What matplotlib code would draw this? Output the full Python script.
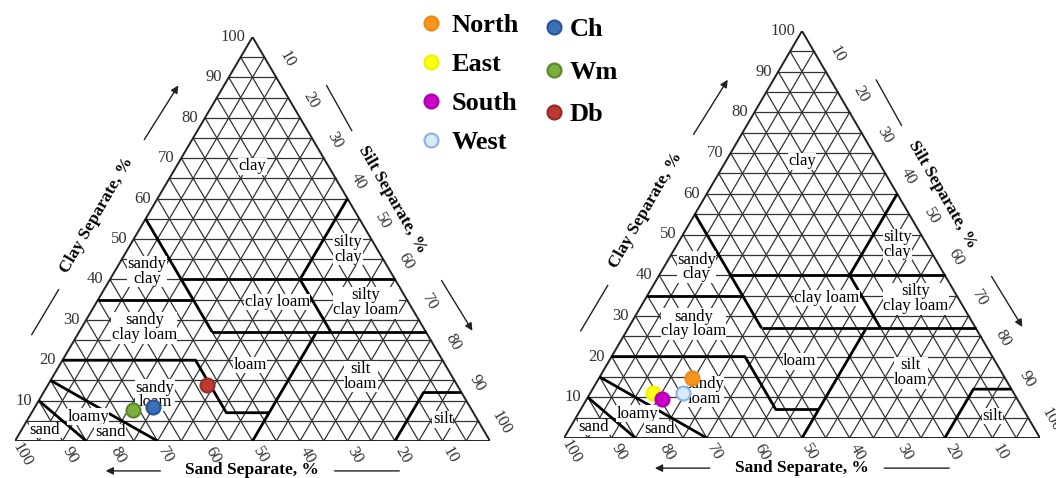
import numpy as np
import matplotlib
matplotlib.use('Agg')
import matplotlib.pyplot as plt
from matplotlib.lines import Line2D

plt.rcParams['font.family'] = ['Liberation Serif', 'DejaVu Serif']

# soil samples, % of each separate
site_names = ['Ch', 'Wm', 'Db']
site_sand = [66.7, 71.3, 52.6]
site_silt = [24.9, 21.0, 33.5]
site_clay = [8.4, 7.7, 13.9]
site_face = ['#3b6fb6', '#7fae3e', '#c0392f']
site_edge = ['#2c5597', '#5b8a2a', '#93302a']

zone_names = ['North', 'East', 'South', 'West']
zone_sand = [65.8, 75.9, 74.5, 69.6]
zone_silt = [19.4, 13.1, 15.8, 19.4]
zone_clay = [14.8, 11.0, 9.7, 11.0]
zone_face = ['#f7951f', '#ffff14', '#c800c8', '#d9ebfb']
zone_edge = ['#ec8a1a', '#f2f200', '#b000b0', '#8fb4e3']

# USDA texture class boundaries as (silt, clay) vertices
boundaries = [
    [(15, 0), (0, 10)],
    [(30, 0), (0, 15)],
    [(0, 20), (28, 20), (41, 7), (50, 7)],
    [(50, 0), (50, 27)],
    [(0, 35), (20, 35)],
    [(0, 55), (15, 40), (20, 35), (28, 27)],
    [(15, 40), (60, 40)],
    [(40, 60), (40, 40), (53, 27)],
    [(28, 27), (73, 27)],
    [(80, 0), (80, 12), (88, 12)],
]

class_labels = [
    ('clay', 50, 68),
    ('silty\nclay', 70.1, 47.5),
    ('sandy\nclay', 27.8, 42),
    ('clay loam', 55.2, 34.4),
    ('silty\nclay loam', 73.9, 34.2),
    ('sandy\nclay loam', 27.2, 28),
    ('loam', 49.5, 18.8),
    ('silt\nloam', 72.8, 16),
    ('sandy\nloam', 29.5, 11.4),
    ('loamy', 15.4, 6),
    ('sand', 20, 2.2),
    ('sand', 6.3, 2.7),
    ('silt', 90.1, 5.4),
]

ticks = list(range(10, 101, 10))


def to_xy(silt, clay):
    silt = np.asarray(silt, dtype=float)
    clay = np.asarray(clay, dtype=float)
    return silt + clay / 2, clay


def draw_triangle(ax):
    ax.set_xlim(0, 100)
    ax.set_ylim(0, 100)
    ax.axis('off')

    grid = dict(color='#333333', lw=0.9, zorder=1)
    for k in range(5, 100, 5):
        ax.plot([k / 2, 100 - k / 2], [k, k], **grid)
        ax.plot([k, k + (100 - k) / 2], [0, 100 - k], **grid)
        ax.plot([100 - k, (100 - k) / 2], [0, 100 - k], **grid)
    ax.plot([0, 50, 100, 0], [0, 100, 0, 0], color='#222222', lw=1.4, zorder=3)

    for line in boundaries:
        s, c = zip(*line)
        x, y = to_xy(s, c)
        ax.plot(x, y, color='black', lw=2.0, zorder=3, solid_capstyle='butt')

    for text, x, y in class_labels:
        ax.text(x, y, text, ha='center', va='center', fontsize=12,
                linespacing=0.9, zorder=4,
                bbox=dict(fc='white', ec='none', pad=0.3))

    tick_style = dict(fontsize=12, color='#333333', clip_on=False)
    for k in ticks:
        ax.text(k / 2 - 1.4, k, str(k), ha='right', va='center', **tick_style)
        ax.text(k + (100 - k) / 2 + 2.3, 100 - k + 4.4, str(k), rotation=-60,
                ha='center', va='center', **tick_style)
        ax.text(100 - k + 1.6, -3.4, str(k), rotation=-60,
                ha='center', va='center', **tick_style)

    title = dict(fontsize=12.5, fontweight='bold', ha='center', va='center')
    ax.text(17.3, 55.9, 'Clay Separate, %', rotation=60, **title)
    ax.text(79.4, 59.7, 'Silt Separate, %', rotation=-60, **title)
    ax.text(49.9, -7.3, 'Sand Separate, %', **title)

    arrow = dict(arrowstyle='-|>', color='#222222', lw=1.0, mutation_scale=11)
    plain = dict(arrowstyle='-', color='#222222', lw=1.0)
    ax.annotate('', xy=(34.7, 88.6), xytext=(26.9, 74.0), arrowprops=arrow,
                annotation_clip=False)
    ax.annotate('', xy=(9.5, 38.1), xytext=(3.2, 25.7), arrowprops=plain,
                annotation_clip=False)
    ax.annotate('', xy=(71.2, 76.2), xytext=(65.3, 88.6), arrowprops=plain,
                annotation_clip=False)
    ax.annotate('', xy=(96.6, 26.7), xytext=(89.5, 40.3), arrowprops=arrow,
                annotation_clip=False)
    ax.annotate('', xy=(18.5, -7.4), xytext=(31.2, -7.4), arrowprops=arrow,
                annotation_clip=False)
    ax.annotate('', xy=(81.5, -7.4), xytext=(66.7, -7.4), arrowprops=plain,
                annotation_clip=False)


def draw_samples(ax, silt, clay, face, edge):
    x, y = to_xy(silt, clay)
    for xi, yi, fc, ec in zip(x, y, face, edge):
        ax.plot(xi, yi, 'o', ms=10, mfc=fc, mec=ec, mew=1.6, zorder=5,
                clip_on=False)


fig = plt.figure(figsize=(10.56, 4.78), dpi=100)
ax_left = fig.add_axes([15 / 1056, 37 / 478, 475 / 1056, 404 / 478])
ax_right = fig.add_axes([564 / 1056, 40 / 478, 476 / 1056, 407 / 478])

draw_triangle(ax_left)
draw_triangle(ax_right)
draw_samples(ax_left, site_silt, site_clay, site_face, site_edge)
draw_samples(ax_right, zone_silt, zone_clay, zone_face, zone_edge)


def handles(face, edge):
    return [Line2D([], [], ls='none', marker='o', ms=10, mfc=fc, mec=ec,
                   mew=1.6) for fc, ec in zip(face, edge)]


legend_font = dict(size=19, weight='bold')
fig.legend(handles(zone_face, zone_edge), zone_names, loc='upper left',
           bbox_to_anchor=(420 / 1056, 1 - 14 / 478), frameon=False,
           prop=legend_font, handlelength=0.8, handletextpad=0.4,
           labelspacing=0.58, borderpad=0, borderaxespad=0)
fig.legend(handles(site_face, site_edge), site_names, loc='upper left',
           bbox_to_anchor=(543 / 1056, 1 - 18 / 478), frameon=False,
           prop=legend_font, handlelength=0.8, handletextpad=0.2,
           labelspacing=0.72, borderpad=0, borderaxespad=0)

fig.savefig('out.png', dpi=100, facecolor='white')
